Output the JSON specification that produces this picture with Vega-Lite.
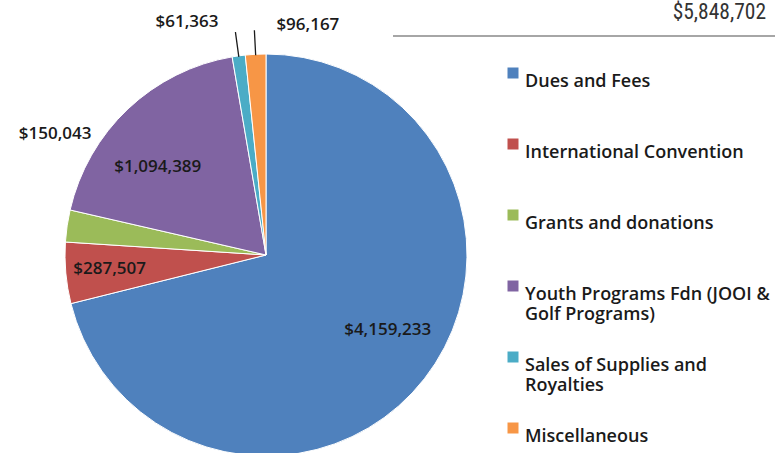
{
  "$schema": "https://vega.github.io/schema/vega-lite/v6.json",
  "autosize": {"type": "none"},
  "width": 532,
  "height": 396,
  "padding": {"left": 0, "top": 57, "right": 243, "bottom": 0},
  "background": "#ffffff",
  "view": {"stroke": null},
  "title": {
    "text": "$5,848,702",
    "anchor": "end",
    "frame": "group",
    "font": "Liberation Sans Narrow, Roboto Condensed, Roboto",
    "fontSize": 21.5,
    "fontWeight": "normal",
    "color": "#333333",
    "dx": 234,
    "dy": 20,
    "offset": -67,
    "baseline": "alphabetic"
  },
  "data": {
    "values": [
      {"idx": 1, "cat": "Dues and Fees", "amount": 4159233},
      {"idx": 2, "cat": "International Convention", "amount": 287507},
      {"idx": 3, "cat": "Grants and donations", "amount": 150043},
      {"idx": 4, "cat": "Youth Programs Fdn (JOOI & Golf Programs)", "amount": 1094389},
      {"idx": 5, "cat": "Sales of Supplies and Royalties", "amount": 61363},
      {"idx": 6, "cat": "Miscellaneous", "amount": 96167}
    ]
  },
  "layer": [
    {
      "mark": {"type": "arc", "outerRadius": 201, "stroke": "#ffffff", "strokeWidth": 1},
      "encoding": {
        "theta": {"field": "amount", "type": "quantitative", "stack": true},
        "order": {"field": "idx", "type": "quantitative"},
        "color": {
          "field": "cat",
          "type": "nominal",
          "scale": {
            "domain": ["Dues and Fees", "International Convention", "Grants and donations", "Youth Programs Fdn (JOOI & Golf Programs)", "Sales of Supplies and Royalties", "Miscellaneous"],
            "range": ["#4F81BD", "#C0504D", "#9BBB59", "#8064A2", "#4BACC6", "#F79646"]
          },
          "legend": {
            "orient": "none",
            "legendX": 504,
            "legendY": 7,
            "title": null,
            "padding": 0,
            "symbolType": "square",
            "symbolSize": 121,
            "symbolStrokeWidth": 0,
            "labelFont": "Open Sans",
            "labelFontSize": 18,
            "labelFontWeight": 600,
            "labelColor": "#1a1a1a",
            "labelOffset": 3,
            "labelLimit": 400,
            "labelBaseline": "top",
            "gridAlign": "all",
            "rowPadding": 24,
            "labelExpr": "datum.label == 'Youth Programs Fdn (JOOI & Golf Programs)' ? ['Youth Programs Fdn (JOOI &', 'Golf Programs)'] : datum.label == 'Sales of Supplies and Royalties' ? ['Sales of Supplies and', 'Royalties'] : datum.label",
            "encode": {"labels": {"dy": {"value": -18}, "lineHeight": {"value": 25}}}
          }
        }
      }
    },
    {
      "mark": {"type": "arc", "outerRadius": 225, "innerRadius": 200, "padAngle": 0.2, "fillOpacity": 0, "stroke": "#1a1a1a", "strokeWidth": 1.3},
      "encoding": {
        "theta": {"field": "amount", "type": "quantitative", "stack": true},
        "order": {"field": "idx", "type": "quantitative"},
        "strokeOpacity": {"condition": {"test": "datum.idx == 5 || datum.idx == 6", "value": 1}, "value": 0}
      }
    },
    {
      "mark": {"type": "text", "radius": 143, "dx": 9, "dy": -13, "font": "Open Sans", "fontSize": 17, "fontWeight": 600, "color": "#1a1a1a"},
      "encoding": {
        "theta": {"field": "amount", "type": "quantitative", "stack": true},
        "order": {"field": "idx", "type": "quantitative"},
        "text": {"condition": {"test": "datum.idx == 1", "field": "amount", "type": "quantitative", "format": "$,.0f"}, "value": ""}
      }
    },
    {
      "mark": {"type": "text", "radius": 143, "dx": -14, "dy": 1, "font": "Open Sans", "fontSize": 17, "fontWeight": 600, "color": "#1a1a1a"},
      "encoding": {
        "theta": {"field": "amount", "type": "quantitative", "stack": true},
        "order": {"field": "idx", "type": "quantitative"},
        "text": {"condition": {"test": "datum.idx == 2", "field": "amount", "type": "quantitative", "format": "$,.0f"}, "value": ""}
      }
    },
    {
      "mark": {"type": "text", "radius": 201, "dx": -12, "dy": -92, "font": "Open Sans", "fontSize": 17, "fontWeight": 600, "color": "#1a1a1a"},
      "encoding": {
        "theta": {"field": "amount", "type": "quantitative", "stack": true},
        "order": {"field": "idx", "type": "quantitative"},
        "text": {"condition": {"test": "datum.idx == 3", "field": "amount", "type": "quantitative", "format": "$,.0f"}, "value": ""}
      }
    },
    {
      "mark": {"type": "text", "radius": 143, "dx": -10, "dy": 16, "font": "Open Sans", "fontSize": 17, "fontWeight": 600, "color": "#1a1a1a"},
      "encoding": {
        "theta": {"field": "amount", "type": "quantitative", "stack": true},
        "order": {"field": "idx", "type": "quantitative"},
        "text": {"condition": {"test": "datum.idx == 4", "field": "amount", "type": "quantitative", "format": "$,.0f"}, "value": ""}
      }
    },
    {
      "mark": {"type": "text", "radius": 225, "align": "right", "dx": -17, "dy": -10, "font": "Open Sans", "fontSize": 17, "fontWeight": 600, "color": "#1a1a1a"},
      "encoding": {
        "theta": {"field": "amount", "type": "quantitative", "stack": true},
        "order": {"field": "idx", "type": "quantitative"},
        "text": {"condition": {"test": "datum.idx == 5", "field": "amount", "type": "quantitative", "format": "$,.0f"}, "value": ""}
      }
    },
    {
      "mark": {"type": "text", "radius": 225, "align": "left", "dx": 22, "dy": -5, "font": "Open Sans", "fontSize": 17, "fontWeight": 600, "color": "#1a1a1a"},
      "encoding": {
        "theta": {"field": "amount", "type": "quantitative", "stack": true},
        "order": {"field": "idx", "type": "quantitative"},
        "text": {"condition": {"test": "datum.idx == 6", "field": "amount", "type": "quantitative", "format": "$,.0f"}, "value": ""}
      }
    },
    {
      "data": {"values": [{}]},
      "mark": {"type": "rule", "color": "#a6a6a6", "strokeWidth": 2},
      "encoding": {"x": {"value": 393}, "x2": {"value": 775}, "y": {"value": -21}}
    }
  ]
}
